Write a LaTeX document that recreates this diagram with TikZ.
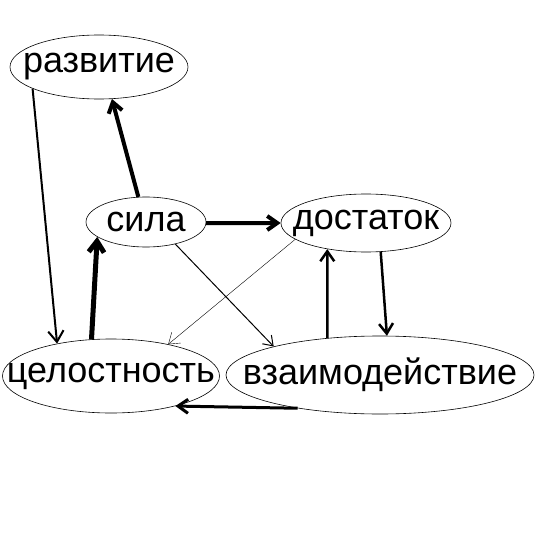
\documentclass[tikz,border=0pt]{standalone}
\usepackage{fontspec}
\setmainfont{Liberation Sans}
\usetikzlibrary{shapes.geometric,arrows.meta}
\newcommand{\wordbox}[1]{\makebox[0pt]{#1}}
\tikzset{
  word/.style={ellipse,draw,line width=0.6pt,inner sep=0pt,font=\fontsize{36}{36}\selectfont},
  link/.style={-{Straight Barb[length=#1,width=1.4*#1]}},
  link/.default=9pt
}
\begin{document}
\begin{tikzpicture}[x=1pt,y=-1pt]
\useasboundingbox (0,0) rectangle (540,556);
\node (razvitie) [word,minimum width=178pt,minimum height=64pt] at (99,67) {\wordbox{развитие}};
\node (sila) [word,minimum width=120pt,minimum height=50pt] at (146,222) {\wordbox{сила}};
\node (dostatok) [word,minimum width=170pt,minimum height=58pt] at (366,223) {\wordbox{достаток}};
\node (celostnost) [word,minimum width=217pt,minimum height=74pt] at (111,376) {\wordbox{целостность}};
\node (vzaimod) [word,minimum width=308pt,minimum height=78pt] at (380,375) {\wordbox{взаимодействие}};
\draw [link=11pt,line width=2pt] (razvitie.198) -- (celostnost.149);
\draw [link=10pt,line width=4pt] (sila.107) -- (razvitie.292);
\draw [link=10pt,line width=4pt] (sila.-1) -- (dostatok.180);
\draw [link=9pt,line width=1pt] (sila.-37) -- (vzaimod.165);
\draw [link=10pt,line width=0.4pt] (dostatok.193) -- (celostnost.29);
\draw [link=11pt,line width=5pt] (celostnost.118) -- (sila.197);
\draw [link=10pt,line width=2.5pt] (vzaimod.145) -- (dostatok.214);
\draw [link=10pt,line width=2.5pt] (dostatok.297) -- (vzaimod.80);
\draw [link=10pt,line width=3pt] (vzaimod.202) -- (celostnost.335);
\end{tikzpicture}
\end{document}
